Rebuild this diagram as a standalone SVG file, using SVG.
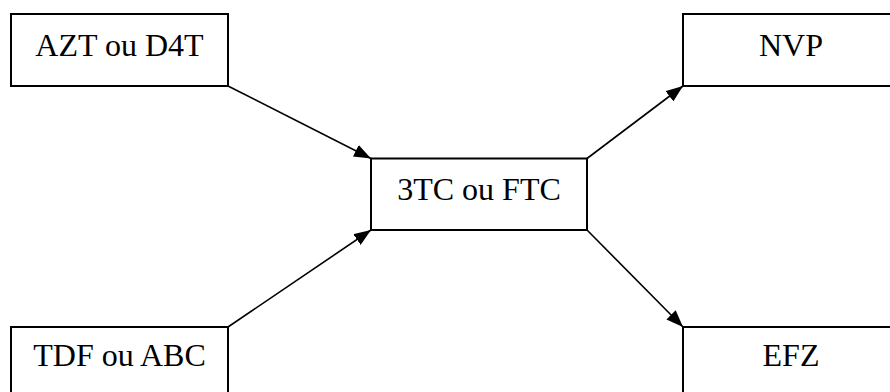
<svg xmlns="http://www.w3.org/2000/svg" width="890" height="392" viewBox="0 0 890 392">
<style>
.box{fill:#fff;stroke:#000;stroke-width:2}
.lbl{font-family:"Liberation Serif","Times New Roman",serif;font-size:32px;fill:#000;text-anchor:middle}
.conn{stroke:#000;stroke-width:1.6;fill:none}
</style>
<defs>
<marker id="ah" viewBox="0 0 17 13" refX="17" refY="6.5" markerWidth="17" markerHeight="13" markerUnits="userSpaceOnUse" orient="auto">
<path d="M0,0 L17,6.5 L0,13 Z" fill="#000"/>
</marker>
</defs>
<rect width="890" height="392" fill="#fff"/>
<g id="connectors">
<line class="conn" x1="228" y1="86" x2="371" y2="158.5" marker-end="url(#ah)"/>
<line class="conn" x1="228" y1="327" x2="371" y2="230" marker-end="url(#ah)"/>
<line class="conn" x1="587" y1="158.5" x2="683" y2="86" marker-end="url(#ah)"/>
<line class="conn" x1="587" y1="230" x2="683" y2="327" marker-end="url(#ah)"/>
</g>
<g id="azt">
<rect class="box" x="11" y="14" width="217" height="72"/>
<text class="lbl" x="119.5" y="56">AZT ou D4T</text>
</g>
<g id="nvp">
<rect class="box" x="683" y="14" width="216" height="72"/>
<text class="lbl" x="791" y="55.5">NVP</text>
</g>
<g id="tc">
<rect class="box" x="371" y="158.5" width="216" height="71.5"/>
<text class="lbl" x="479" y="199.5">3TC ou FTC</text>
</g>
<g id="tdf">
<rect class="box" x="11" y="327" width="217" height="72"/>
<text class="lbl" x="119.5" y="366">TDF ou ABC</text>
</g>
<g id="efz">
<rect class="box" x="683" y="327" width="216" height="72"/>
<text class="lbl" x="791" y="366">EFZ</text>
</g>
</svg>
